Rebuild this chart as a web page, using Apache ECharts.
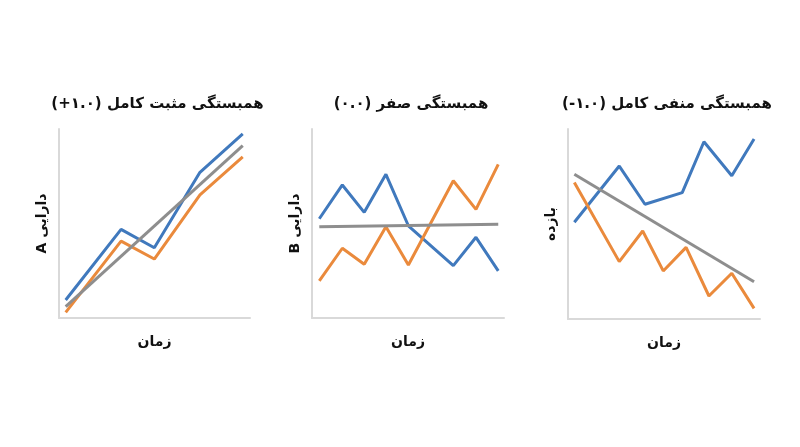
<!DOCTYPE html>
<html>
<head>
<meta charset="utf-8">
<script src="https://cdn.jsdelivr.net/npm/echarts@6/dist/echarts.min.js"></script>
<style>
  html, body { margin: 0; padding: 0; background: #fff; }
  #chart { width: 800px; height: 447px; }
</style>
</head>
<body>
<div id="chart"></div>
<script>
// titles (written so the brackets come out like the original picture)
const titles = ["همبستگی مثبت کامل (۱.۰+)", "همبستگی صفر (۰.۰)", "همبستگی منفی کامل (۱.۰-)"];
const yNames = ["A دارایی", "B دارایی", "بازده"];
const xName = "زمان";

// chart 1 - positive correlation
const c1X = [3.5, 32.5, 49.9, 73.8, 96.2];
const c1Blue = [9.5, 46.9, 37.2, 77.1, 97.4];
const c1Orange = [3.0, 40.7, 31.2, 65.1, 85.3];
const c1TrendX = [3.5, 96.2];
const c1Trend = [6.0, 91.2];

// chart 2 - zero correlation
const c2X = [3.8, 15.8, 27.2, 38.5, 50.2, 73.6, 85.4, 97];
const c2Blue = [52.5, 70.4, 55.9, 76.0, 48.8, 27.7, 42.7, 24.9];
const c2Orange = [19.6, 36.9, 28.4, 48.3, 28.0, 72.6, 57.5, 81.3];
const c2TrendX = [3.8, 97];
const c2Trend = [48.3, 49.6];

// chart 3 - negative correlation
const c3BlueX = [3.3, 26.7, 40.1, 59.5, 70.8, 85.3, 96.9];
const c3Blue = [50.9, 80.5, 60.4, 66.5, 93.3, 75.4, 94.7];
const c3OrangeX = [3.3, 26.7, 38.9, 49.6, 61.5, 73.4, 85.3, 96.9];
const c3Orange = [71.9, 30.2, 46.3, 25.3, 37.7, 12.1, 24.1, 5.6];
const c3TrendX = [3.3, 96.9];
const c3Trend = [76.2, 19.6];

const blue = "#4079bd";
const orange = "#ea8a3c";
const gray = "#8e8e8e";
const font = "DejaVu Sans";

function pairs(xs, ys) {
  return xs.map((x, i) => [x, ys[i]]);
}

const grids = [
  { left: 59, top: 129, width: 191, height: 189 },
  { left: 312, top: 129, width: 192, height: 189 },
  { left: 568, top: 129, width: 192, height: 190 },
];

const axisLine = { show: true, lineStyle: { color: "#d9d9d9", width: 2 } };

var myChart = echarts.init(document.getElementById("chart"));

var option = {
  backgroundColor: "#fff",
  animation: false,
  title: grids.map((g, i) => ({
    text: titles[i],
    left: g.left + g.width / 2 - 2,
    top: 92,
    textAlign: "center",
    textStyle: { fontFamily: font, fontSize: 15, fontWeight: "bold", color: "#111" },
  })),
  grid: grids,
  xAxis: grids.map((g, i) => ({
    type: "value",
    gridIndex: i,
    min: 0,
    max: 100,
    name: xName,
    nameLocation: "middle",
    nameGap: 17,
    nameTextStyle: { fontFamily: font, fontSize: 14, fontWeight: "bold", color: "#111" },
    axisLine: axisLine,
    axisTick: { show: false },
    axisLabel: { show: false },
    splitLine: { show: false },
  })),
  yAxis: grids.map((g, i) => ({
    type: "value",
    gridIndex: i,
    min: 0,
    max: 100,
    name: yNames[i],
    nameLocation: "middle",
    nameGap: 10,
    nameTextStyle: { fontFamily: font, fontSize: 14, fontWeight: "bold", color: "#111" },
    axisLine: axisLine,
    axisTick: { show: false },
    axisLabel: { show: false },
    splitLine: { show: false },
  })),
  series: [
    [0, c1X, c1Blue, blue],
    [0, c1X, c1Orange, orange],
    [0, c1TrendX, c1Trend, gray],
    [1, c2X, c2Blue, blue],
    [1, c2X, c2Orange, orange],
    [1, c2TrendX, c2Trend, gray],
    [2, c3BlueX, c3Blue, blue],
    [2, c3OrangeX, c3Orange, orange],
    [2, c3TrendX, c3Trend, gray],
  ].map(([gi, xs, ys, color]) => ({
    type: "line",
    xAxisIndex: gi,
    yAxisIndex: gi,
    data: pairs(xs, ys),
    showSymbol: false,
    symbol: "none",
    lineStyle: { color: color, width: 3 },
  })),
};

myChart.setOption(option);
</script>
</body>
</html>
